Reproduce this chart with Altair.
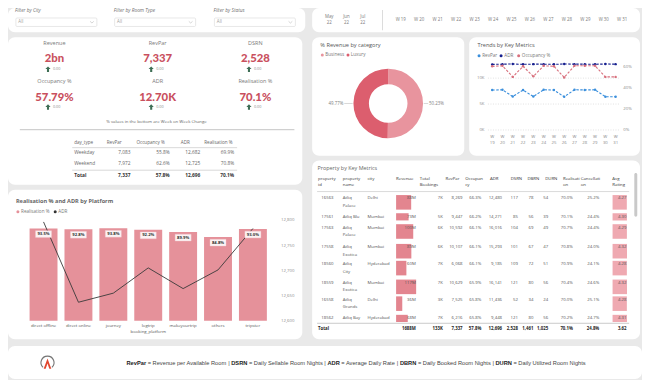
import altair as alt
import pandas as pd

# ======================= DATA =======================
filter_labels = ["Filter by City", "Filter by Room Type", "Filter by Status"]
filter_values = ["All", "All", "All"]

months = ["May", "Jun", "Jul"]
month_years = ["22", "22", "22"]
weeks = ["W 19", "W 20", "W 21", "W 22", "W 23", "W 24", "W 25",
         "W 26", "W 27", "W 28", "W 29", "W 30", "W 31"]

kpi_labels = ["Revenue", "RevPar", "DSRN", "Occupancy %", "ADR", "Realisation %"]
kpi_values = ["2bn", "7,337", "2,528", "57.79%", "12.70K", "70.1%"]
kpi_wow = ["0.00", "0.00", "0.00", "0.00", "0.00", "0.00"]
kpi_note = "% values in the bottom are Week on Week Change"

dt_header = ["day_type", "RevPar", "Occupancy %", "ADR", "Realisation %"]
day_types = ["Weekday", "Weekend", "Total"]
dt_revpar = [7083, 7972, 7337]
dt_occ = [55.8, 62.6, 57.8]
dt_adr = [12682, 12725, 12696]
dt_real = [69.9, 70.8, 70.1]

rev_categories = ["Business", "Luxury"]
rev_share = [50.23, 49.77]

trend_series = ["RevPar", "ADR", "Occupancy %"]
revpar_w = [7700, 7750, 6450, 7700, 6450, 7750, 7700, 6400, 7750, 7720, 7750, 6420, 6420]
adr_w = [12650, 12690, 12730, 12660, 12700, 12690, 12660, 12720, 12700, 12690, 12680, 12720, 12700]
occ_w = [0.605, 0.61, 0.505, 0.605, 0.51, 0.61, 0.605, 0.50, 0.61, 0.61, 0.61, 0.505, 0.505]
trend_left_ticks = [0, 5000, 10000]
trend_right_ticks = [0, 0.2, 0.4, 0.6]

platforms = ["direct offline", "direct online", "journey", "logtrip",
             "makeyourtrip", "others", "tripster"]
realisation_p = [93.5, 92.8, 93.8, 92.2, 89.9, 84.8, 93.0]
adr_p = [12797, 12638, 12656, 12706, 12665, 12702, 12784]
adr_ticks = [12600, 12650, 12700, 12750, 12800]

prop_headers = ["property id", "property name", "city", "Revenue", "Total Bookings",
                "RevPar", "Occupan cy %", "ADR", "DSRN", "DBRN", "DURN",
                "Realisati on %", "Cancellati on %", "Avg Rating"]
prop_id = [16563, 17561, 17563, 17558, 18560, 18559, 16558, 18562]
prop_name = ["Atliq Palace", "Atliq Blu", "Atliq Palace", "Atliq Exotica",
             "Atliq City", "Atliq Exotica", "Atliq Grands", "Atliq Bay"]
prop_city = ["Delhi", "Mumbai", "Mumbai", "Mumbai", "Hyderabad", "Mumbai", "Delhi", "Hyderabad"]
prop_revenue_m = [88, 73, 100, 89, 60, 117, 36, 68]
prop_bookings_k = [7, 5, 6, 6, 7, 7, 3, 7]
prop_revpar = [8269, 9447, 10592, 10107, 6068, 10629, 7525, 6216]
prop_occ = [66.3, 66.2, 66.1, 66.1, 66.1, 65.9, 65.8, 65.8]
prop_adr = [12480, 14271, 16016, 15293, 9185, 16141, 11436, 9448]
prop_dsrn = [117, 85, 104, 101, 109, 121, 52, 121]
prop_dbrn = [78, 56, 69, 67, 72, 80, 34, 80]
prop_durn = [54, 39, 49, 47, 51, 56, 24, 56]
prop_real = [70.0, 70.1, 70.7, 70.8, 70.9, 70.4, 70.0, 70.2]
prop_cancel = [25.2, 24.4, 24.4, 24.0, 24.1, 24.6, 25.1, 24.7]
prop_rating = [4.27, 4.30, 4.29, 4.32, 4.28, 4.32, 4.28, 4.31]
prop_total = ["Total", "1688M", "133K", "7,337", "57.8%", "12,696", "2,528",
              "1,461", "1,025", "70.1%", "24.8%", "3.62"]

glossary_abbr = ["RevPar", "DSRN", "ADR", "DBRN", "DURN"]
glossary_text = ["Revenue per Available Room", "Daily Sellable Room Nights",
                 "Average Daily Rate", "Daily Booked Room Nights", "Daily Utilized Room Nights"]

# ======================= LAYOUT =======================
SX = 634 / 642.0
SY = 372 / 383.0


def X(x):
    return round((x - 3) * SX, 2)


def Y(y):
    return round((y - 3) * SY, 2)


FONT = "Open Sans"
HEAVY = "Lato"
layers = []


def texts(items, size=5.0, color="#555555", align="left", weight="normal",
          font=FONT, style="normal", baseline="middle", **kw):
    df = pd.DataFrame({"t": [str(i[0]) for i in items],
                       "px": [X(i[1]) for i in items],
                       "py": [Y(i[2]) for i in items]})
    return alt.Chart(df).mark_text(fontSize=size, color=color, align=align, fontWeight=weight,
                                   font=font, fontStyle=style, baseline=baseline, **kw).encode(
        x=alt.X("px:Q", scale=None, axis=None), y=alt.Y("py:Q", scale=None, axis=None), text="t:N")


def rects(items, **mk):
    df = pd.DataFrame({"x": [X(r[0]) for r in items], "x2": [X(r[1]) for r in items],
                       "y": [Y(r[2]) for r in items], "y2": [Y(r[3]) for r in items]})
    return alt.Chart(df).mark_rect(**mk).encode(
        x=alt.X("x:Q", scale=None, axis=None), x2="x2:Q",
        y=alt.Y("y:Q", scale=None, axis=None), y2="y2:Q")


def hrules(items, **mk):
    df = pd.DataFrame({"x": [X(r[0]) for r in items], "x2": [X(r[1]) for r in items],
                       "y": [Y(r[2]) for r in items]})
    return alt.Chart(df).mark_rule(**mk).encode(
        x=alt.X("x:Q", scale=None, axis=None), x2="x2:Q", y=alt.Y("y:Q", scale=None, axis=None))


def symbols(items, **mk):
    df = pd.DataFrame({"px": [X(p[0]) for p in items], "py": [Y(p[1]) for p in items]})
    return alt.Chart(df).mark_point(**mk).encode(
        x=alt.X("px:Q", scale=None, axis=None), y=alt.Y("py:Q", scale=None, axis=None))


# ---------- panels ----------
panels = [(3, 304, 3, 28), (311, 643, 3, 28), (3, 301, 33, 185), (311, 465, 33, 155),
          (470, 643, 33, 155), (3, 301, 190, 344), (311, 643, 160, 344), (3, 645, 351, 385)]
layers.append(rects(panels, fill="white", cornerRadius=7))

# ---------- filters ----------
fx = [10, 110, 211]
layers.append(texts([(l, x, 6.3) for l, x in zip(filter_labels, fx)], size=4.8,
                    color="#6f6f6f", style="italic"))
layers.append(rects([(x + 1, x + 83, 13.3, 22) for x in fx], fill="white", stroke="#d9d9d9",
                    strokeWidth=0.6, cornerRadius=1))
layers.append(texts([(v, x + 3.5, 17.8) for v, x in zip(filter_values, fx)], size=4.4, color="#a0a0a0"))
layers.append(symbols([(x + 78, 17.6) for x in fx], shape="M-1,-0.45L0,0.45L1,-0.45",
                      filled=False, stroke="#a0a0a0", strokeWidth=0.6, size=14))

# ---------- date slicer ----------
mx = [328.3, 345.7, 362.3]
layers.append(texts([(m, x, 12.6) for m, x in zip(months, mx)], size=4.4, color="#7a7a7a", align="center"))
layers.append(texts([(m, x, 18.6) for m, x in zip(month_years, mx)], size=4.4, color="#7a7a7a", align="center"))
layers.append(rects([(382.0, 382.6, 5, 26)], fill="#c4c4c4"))
layers.append(texts([(w, 400.7 + i * 18.69, 15.2) for i, w in enumerate(weeks)], size=4.4,
                    color="#7a7a7a", align="center"))

# ---------- KPI cards ----------
cx = [50, 154.5, 253.5]
lab_y, val_y, wow_y = [39, 78.3], [55, 95.7], [66, 105]
kl, kv, ka, kw = [], [], [], []
for i in range(6):
    c = cx[i % 3]
    r = i // 3
    kl.append((kpi_labels[i], c, lab_y[r]))
    kv.append((kpi_values[i], c, val_y[r]))
    ka.append((c - 6.5, wow_y[r]))
    kw.append((kpi_wow[i], c - 1.5, wow_y[r] + 0.3))
layers.append(texts(kl, size=5.5, color="#7a7a7a", align="center"))
layers.append(texts(kv, size=11.3, color="#c9505e", align="center", weight=900, font=HEAVY))
layers.append(symbols(ka, shape="M0,-1L0.95,-0.05L0.38,-0.05L0.38,1L-0.38,1L-0.38,-0.05L-0.95,-0.05Z",
                      filled=True, fill="#3e6e55", strokeWidth=0, size=30, opacity=1))
layers.append(texts(kw, size=3.8, color="#8a8a8a"))
layers.append(texts([(kpi_note, 153.3, 120.7)], size=4.3, color="#666666", align="center"))
layers.append(hrules([(15, 293, 128.3)], color="#b5b5b5", strokeWidth=0.8))

# ---------- day type table ----------
dt_hx = [70, 103, 133, 178, 201.7]
dt_vx = [127, 166.7, 197.7, 232]
dt_hy, dt_ry = 141.5, [152.7, 163.3, 176]
layers.append(texts([(h, x, dt_hy) for h, x in zip(dt_header, dt_hx)], size=4.6, color="#666666"))
layers.append(hrules([(68, 235, 146.8)], color="#c8c8c8", strokeWidth=0.7))
layers.append(hrules([(68, 235, 170)], color="#c8c8c8", strokeWidth=0.7))
body_l, body_r, tot_l, tot_r = [], [], [], []
for i in range(3):
    vals = [f"{dt_revpar[i]:,}", f"{dt_occ[i]:.1f}%", f"{dt_adr[i]:,}", f"{dt_real[i]:.1f}%"]
    if i < 2:
        body_l.append((day_types[i], 70, dt_ry[i]))
        body_r += [(v, x, dt_ry[i]) for v, x in zip(vals, dt_vx)]
    else:
        tot_l.append((day_types[i], 70, dt_ry[i]))
        tot_r += [(v, x, dt_ry[i]) for v, x in zip(vals, dt_vx)]
layers.append(texts(body_l, size=4.8, color="#666666"))
layers.append(texts(body_r, size=4.8, color="#666666", align="right"))
layers.append(texts(tot_l, size=4.8, color="#333333", weight="bold"))
layers.append(texts(tot_r, size=4.8, color="#333333", weight="bold", align="right"))

# ---------- donut ----------
DON_LIGHT, DON_DARK = "#e8949e", "#dc5e6e"
layers.append(texts([("% Revenue by category", 319.3, 40.8)], size=5.6, color="#555555"))
layers.append(symbols([(321.3, 51.3)], shape="circle", filled=True, color=DON_LIGHT, size=9, opacity=1))
layers.append(symbols([(347.3, 51.3)], shape="circle", filled=True, color=DON_DARK, size=9, opacity=1))
layers.append(texts([(rev_categories[0], 324.3, 51.3), (rev_categories[1], 350.2, 51.3)],
                    size=4.6, color="#777777"))
don_df = pd.DataFrame({"cat": rev_categories, "share": rev_share, "idx": [0, 1]})
layers.append(alt.Chart(don_df).mark_arc(innerRadius=19.3, outerRadius=34.8).encode(
    theta=alt.Theta("share:Q", stack=True),
    color=alt.Color("cat:N", scale=alt.Scale(domain=rev_categories, range=[DON_LIGHT, DON_DARK]), legend=None),
    order=alt.Order("idx:Q"),
    x=alt.value(X(388)), y=alt.value(Y(101.3))))
layers.append(hrules([(424, 428.5, 101.3), (343.5, 352, 101.3)], color="#bdbdbd", strokeWidth=0.6))
layers.append(texts([(f"{rev_share[0]:.2f}%", 429.3, 101.5)], size=4.4, color="#808080"))
layers.append(texts([(f"{rev_share[1]:.2f}%", 342.6, 101.5)], size=4.4, color="#808080", align="right"))

# ---------- trends ----------
C_REV, C_ADR, C_OCC = "#3b8fdc", "#17208f", "#d8707d"
layers.append(texts([("Trends by Key Metrics", 478.3, 41.3)], size=5.6, color="#555555"))
layers.append(symbols([(480, 52.1)], shape="circle", filled=True, color=C_REV, size=9, opacity=1))
layers.append(symbols([(502.3, 52.1)], shape="circle", filled=True, color=C_ADR, size=9, opacity=1))
layers.append(symbols([(520.1, 52.1)], shape="circle", filled=True, color=C_OCC, size=9, opacity=1))
layers.append(texts([(trend_series[0], 483.2, 52.1), (trend_series[1], 505.5, 52.1),
                     (trend_series[2], 523.3, 52.1)], size=4.6, color="#777777"))
xs_w = alt.Scale(type="point", domain=weeks, range=[X(493.3), X(618.3)], padding=0)
ys_l = alt.Scale(domain=[0, 10000], range=[Y(128.6), Y(75.2)])
ys_r = alt.Scale(domain=[0, 0.6], range=[Y(128.8), Y(63.6)])
grid_df = pd.DataFrame({"v": trend_left_ticks})
layers.append(alt.Chart(grid_df).mark_rule(color="#cfcfcf", strokeDash=[1, 1.5], strokeWidth=0.6).encode(
    y=alt.Y("v:Q", scale=ys_l, axis=None), x=alt.value(X(489)), x2=alt.value(X(623))))
layers.append(alt.Chart(grid_df).transform_calculate(lbl="format(datum.v/1000, 'd') + 'K'").mark_text(
    fontSize=4.3, color="#8a8a8a", align="right", font=FONT).encode(
    y=alt.Y("v:Q", scale=ys_l, axis=None), x=alt.value(X(485.5)), text="lbl:N"))
layers.append(alt.Chart(pd.DataFrame({"v": trend_right_ticks})).mark_text(
    fontSize=4.3, color="#8a8a8a", align="left", font=FONT).encode(
    y=alt.Y("v:Q", scale=ys_r, axis=None), x=alt.value(X(626)), text=alt.Text("v:Q", format=".0%")))
tl_df = pd.DataFrame({"week": weeks * 2, "series": ["RevPar"] * 13 + ["ADR"] * 13, "v": revpar_w + adr_w})
tcol = alt.Color("series:N", scale=alt.Scale(domain=["RevPar", "ADR"], range=[C_REV, C_ADR]), legend=None)
layers.append(alt.Chart(tl_df).mark_line(strokeDash=[2.5, 1.5], strokeWidth=1.1).encode(
    x=alt.X("week:N", scale=xs_w, axis=None), y=alt.Y("v:Q", scale=ys_l, axis=None), color=tcol))
layers.append(alt.Chart(tl_df).mark_circle(size=6, opacity=1).encode(
    x=alt.X("week:N", scale=xs_w, axis=None), y=alt.Y("v:Q", scale=ys_l, axis=None), color=tcol))
occ_df = pd.DataFrame({"week": weeks, "v": occ_w})
layers.append(alt.Chart(occ_df).mark_line(strokeDash=[2.5, 1.5], strokeWidth=1.1, color=C_OCC).encode(
    x=alt.X("week:N", scale=xs_w, axis=None), y=alt.Y("v:Q", scale=ys_r, axis=None)))
layers.append(alt.Chart(occ_df).mark_circle(size=6, opacity=1, color=C_OCC).encode(
    x=alt.X("week:N", scale=xs_w, axis=None), y=alt.Y("v:Q", scale=ys_r, axis=None)))
layers.append(alt.Chart(pd.DataFrame({"week": weeks})).mark_text(
    fontSize=4.3, color="#8a8a8a", align="center", baseline="top", lineBreak=" ", lineHeight=6.3, font=FONT).encode(
    x=alt.X("week:N", scale=xs_w, axis=None), y=alt.value(Y(133.4)), text="week:N"))

# ---------- platform bar + line ----------
BAR_C = "#e5919a"
layers.append(texts([("Realisation % and ADR by Platform", 11, 201.7)], size=5.6, color="#666666", weight="bold"))
layers.append(symbols([(13, 212.8)], shape="circle", filled=True, color=BAR_C, size=9, opacity=1))
layers.append(symbols([(50.8, 212.8)], shape="circle", filled=True, color="#333333", size=9, opacity=1))
layers.append(texts([("Realisation %", 16.2, 212.8), ("ADR", 54, 212.8)], size=4.6, color="#777777"))
plat_df = pd.DataFrame({"platform": platforms, "real": realisation_p, "adr": adr_p})
xs_p = alt.Scale(domain=platforms, range=[X(21.33), X(268.67)], paddingInner=0.2, paddingOuter=0.1)
ys_bar = alt.Scale(domain=[0, 100], range=[Y(325), Y(223.4)])
ys_adr = alt.Scale(domain=[12600, 12800], range=[Y(325.7), Y(221.7)])
px_enc = alt.X("platform:N", scale=xs_p, axis=None)
layers.append(alt.Chart(plat_df).mark_bar(color=BAR_C).encode(
    x=px_enc, y=alt.Y("real:Q", scale=ys_bar, axis=None)))
layers.append(alt.Chart(plat_df).mark_line(color="#3a3a3a", strokeWidth=0.9).encode(
    x=px_enc, y=alt.Y("adr:Q", scale=ys_adr, axis=None)))
layers.append(alt.Chart(plat_df).mark_point(
    shape="M-1,-0.42L1,-0.42L1,0.42L-1,0.42Z", filled=True, fill="#fbf3f4", stroke="#f3c9ce",
    strokeWidth=0.4, size=256, opacity=1, yOffset=5.6).encode(
    x=px_enc, y=alt.Y("real:Q", scale=ys_bar, axis=None)))
layers.append(alt.Chart(plat_df).transform_calculate(lbl="format(datum.real, '.1f') + '%'").mark_text(
    fontSize=4.2, color="#333333", fontWeight="bold", font=FONT, dy=5.6).encode(
    x=px_enc, y=alt.Y("real:Q", scale=ys_bar, axis=None), text="lbl:N"))
layers.append(alt.Chart(pd.DataFrame({"v": adr_ticks})).mark_text(
    fontSize=4.3, color="#8a8a8a", align="left", font=FONT).encode(
    y=alt.Y("v:Q", scale=ys_adr, axis=None), x=alt.value(X(279.5)), text=alt.Text("v:Q", format=",")))
layers.append(alt.Chart(plat_df).mark_text(fontSize=4.3, color="#555555", font=FONT).encode(
    x=px_enc, y=alt.value(Y(330.3)), text="platform:N"))
layers.append(texts([("booking_platform", 145, 336.3)], size=4.3, color="#555555", align="center"))

# ---------- property table ----------
layers.append(texts([("Property by Key Metrics", 316.5, 167.3)], size=5.4, color="#666666"))
ph_x = [317, 342, 367, 396, 420, 446, 466, 491, 512, 529, 547, 565, 583, 615]
h1, h2 = [], []
for h, x in zip(prop_headers, ph_x):
    parts = h.split(" ")
    h1.append((parts[0], x, 179))
    if len(parts) > 1:
        h2.append((parts[1], x, 185.5))
layers.append(texts(h1 + h2, size=4.3, color="#333333"))
layers.append(hrules([(316, 632, 192)], color="#c8c8c8", strokeWidth=0.7))
row_y = [199, 217.7, 229, 249.3, 266.7, 286, 303.3, 322.3]
row_lines = [2 if len(n) > 9 else 1 for n in prop_name]
rev_df = pd.DataFrame({"rev": prop_revenue_m, "rating": prop_rating,
                       "by": [Y(y - 3.4) for y in row_y],
                       "by2": [Y(y + 4.0 + 7.6 * (n - 1)) for y, n in zip(row_y, row_lines)]})
layers.append(alt.Chart(rev_df).transform_calculate(x0="0").mark_rect(color="#e3858f").encode(
    x=alt.X("x0:Q", scale=alt.Scale(domain=[0, 117], range=[X(396), X(416.3)]), axis=None),
    x2="rev:Q", y=alt.Y("by:Q", scale=None, axis=None), y2="by2:Q"))
layers.append(alt.Chart(rev_df).transform_calculate(x0="0").mark_rect(color="#efa9b1").encode(
    x=alt.X("x0:Q", scale=alt.Scale(domain=[0, 4.32], range=[X(615.2), X(629.8)]), axis=None),
    x2="rating:Q", y=alt.Y("by:Q", scale=None, axis=None), y2="by2:Q"))
cl, cr = [], []
vx = [332.7, 416, 443.3, 463.3, 482.3, 503.3, 519.3, 535, 550, 575, 601.7, 629.3]
for i in range(8):
    y = row_y[i]
    if row_lines[i] == 2:
        a, b = prop_name[i].split(" ", 1)
        cl += [(a, 342, y), (b, 342, y + 7.7)]
    else:
        cl.append((prop_name[i], 342, y))
    cl.append((prop_city[i], 367, y))
    vals = [str(prop_id[i]), f"{prop_revenue_m[i]}M", f"{prop_bookings_k[i]}K", f"{prop_revpar[i]:,}",
            f"{prop_occ[i]:.1f}%", f"{prop_adr[i]:,}", str(prop_dsrn[i]), str(prop_dbrn[i]),
            str(prop_durn[i]), f"{prop_real[i]:.1f}%", f"{prop_cancel[i]:.1f}%", f"{prop_rating[i]:.2f}"]
    cr += [(v, x, y) for v, x in zip(vals, vx)]
layers.append(texts(cl, size=4.3, color="#555555"))
layers.append(texts(cr, size=4.3, color="#555555", align="right"))
layers.append(hrules([(316, 632, 327.6)], color="#bdbdbd", strokeWidth=0.8))
layers.append(texts([(prop_total[0], 317, 333.5)], size=4.3, color="#222222", weight="bold"))
layers.append(texts([(v, x, 333.5) for v, x in zip(prop_total[1:], vx[1:])], size=4.3,
                    color="#222222", weight="bold", align="right"))
layers.append(rects([(637.2, 640.2, 173, 218)], fill="#c9c9c9", cornerRadius=1.5))

# ---------- footer ----------
layers.append(symbols([(43, 368.2)], shape="M-0.68,0.72A1,1 0 1 1 0.68,0.72", filled=False,
                      stroke="#3a3a3a", strokeWidth=1.1, size=170))
layers.append(symbols([(43, 368.8)], shape="M-0.62,0.9L0,-0.8L0.62,0.9L0.3,0.9L0,0.05L-0.3,0.9Z",
                      filled=True, fill="#e2472f", strokeWidth=0, size=150, opacity=1))
AR = {' ': 278, '=': 584, '|': 260, 'A': 667, 'B': 667, 'D': 722, 'N': 722, 'P': 667, 'R': 722,
      'S': 667, 'U': 722, 'a': 556, 'b': 556, 'c': 500, 'd': 556, 'e': 556, 'f': 278, 'g': 556,
      'h': 556, 'i': 222, 'k': 500, 'l': 222, 'm': 833, 'n': 556, 'o': 556, 'p': 556, 'r': 333,
      's': 500, 't': 278, 'u': 556, 'v': 500, 'y': 500, 'z': 500}
ARB = {' ': 278, 'A': 722, 'B': 722, 'D': 722, 'N': 722, 'P': 667, 'R': 722, 'S': 667, 'U': 722,
       'a': 556, 'e': 556, 'r': 389, 'v': 556}


def em(s, tab):
    return sum(tab.get(ch, 556) for ch in s) / 1000.0


pieces = []
for i, (ab, tx) in enumerate(zip(glossary_abbr, glossary_text)):
    pieces.append((ab, True))
    pieces.append((" = " + tx, False))
    if i < len(glossary_abbr) - 1:
        pieces.append((" | ", False))
total_em = sum(em(p, ARB if b else AR) for p, b in pieces)
FS = 465.0 / total_em
cur = 123.0
fb, fr = [], []
for p, b in pieces:
    tab = ARB if b else AR
    lead = len(p) - len(p.lstrip(" "))
    xdraw = cur + em(" " * lead, tab) * FS
    (fb if b else fr).append((p.strip(), xdraw, 368.6))
    cur += em(p, tab) * FS
layers.append(texts(fb, size=round(FS * SX, 2), color="#222222", weight="bold", font="Liberation Sans"))
layers.append(texts(fr, size=round(FS * SX, 2), color="#444444", font="Liberation Sans"))

chart = alt.layer(*layers).resolve_scale(
    x="independent", y="independent", color="independent", theta="independent"
).properties(
    width=634, height=372, padding=0, background="#e9e9e9",
    autosize=alt.AutoSizeParams(type="none")
).configure_view(strokeWidth=0)

chart.save("out.html", embed_options={"renderer": "svg", "actions": False})
